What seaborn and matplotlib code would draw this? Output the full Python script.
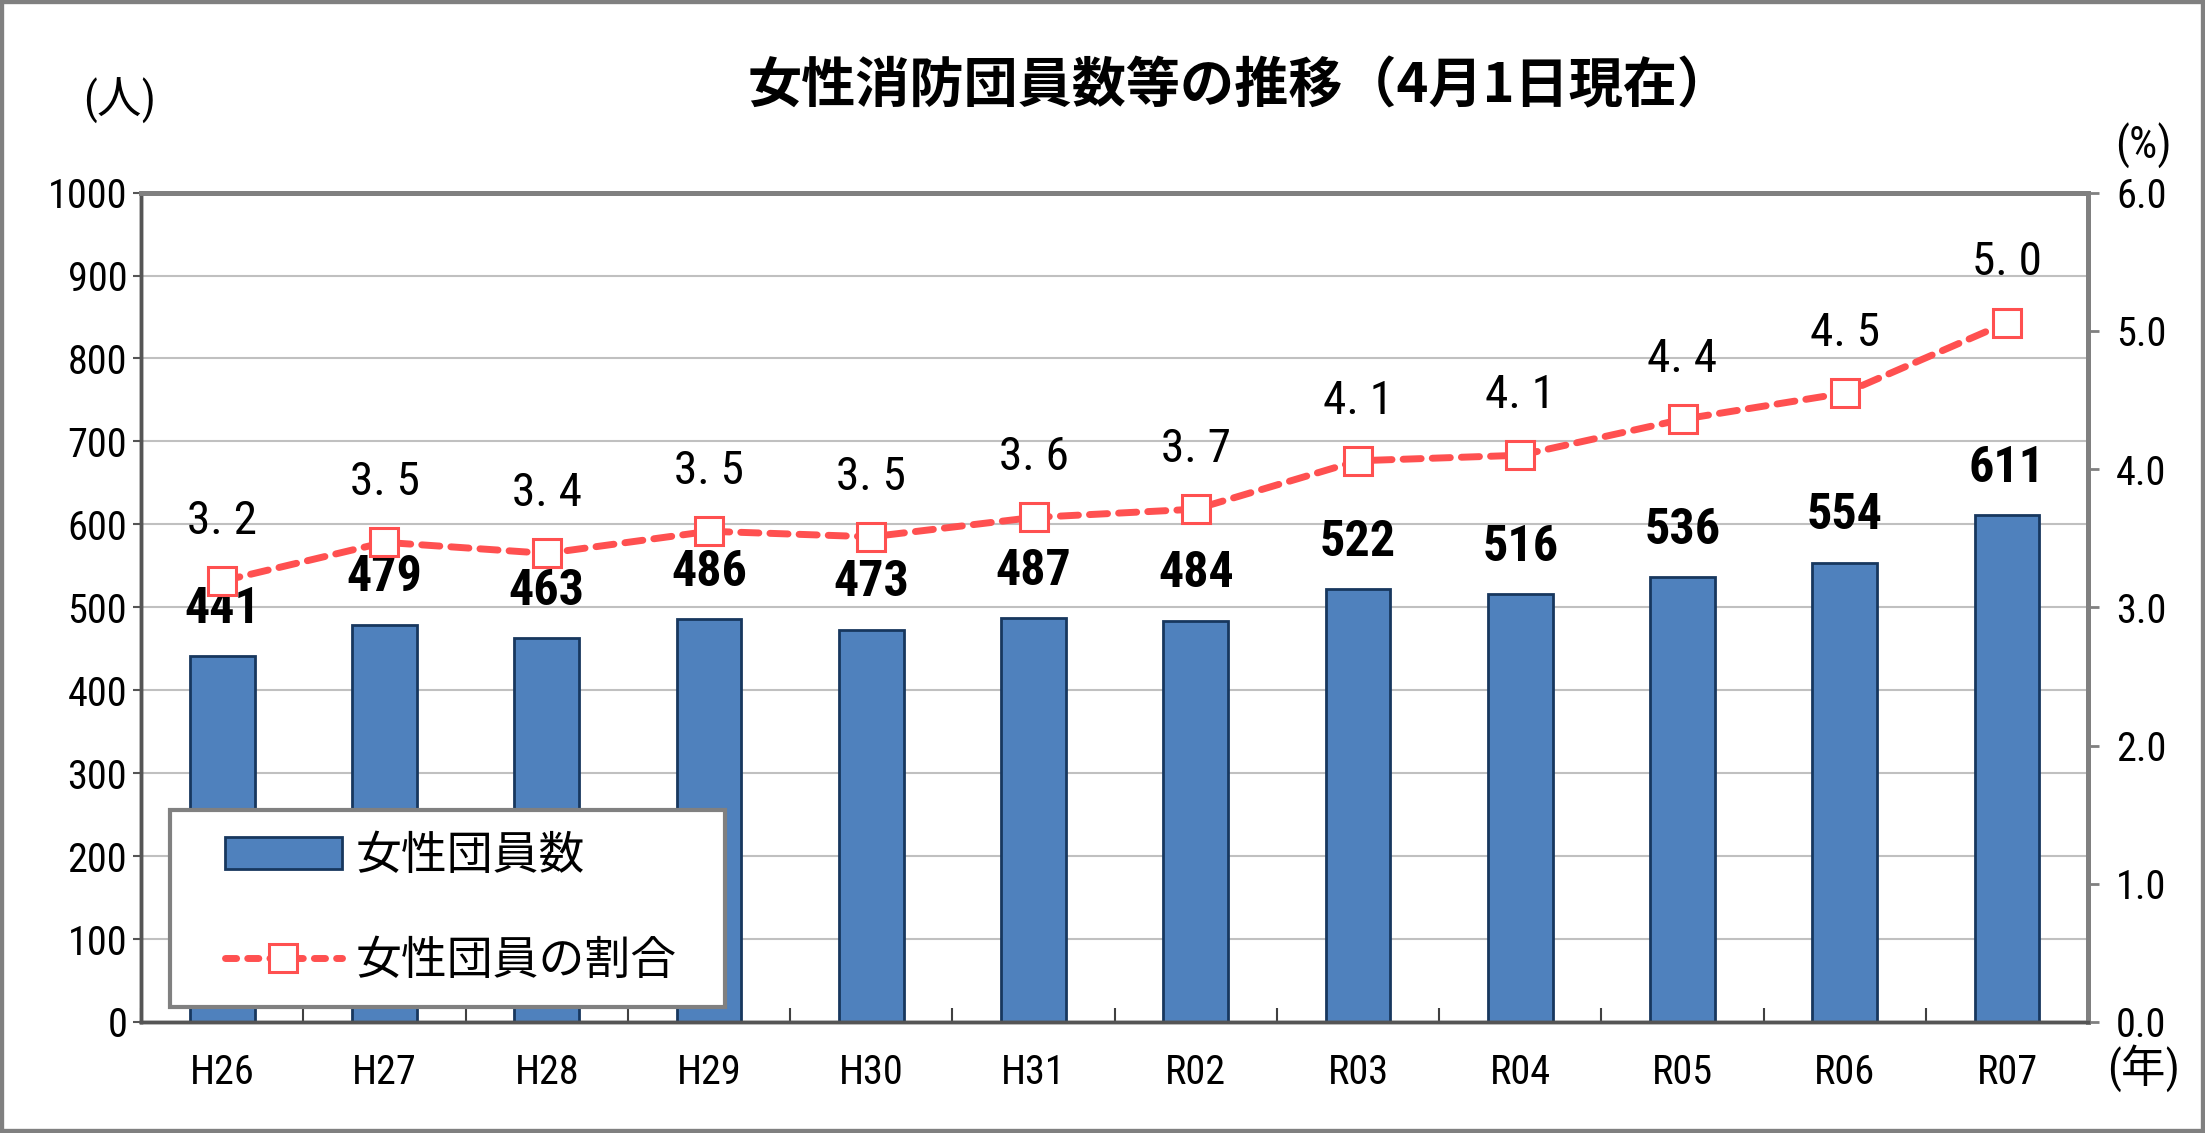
import matplotlib
matplotlib.use("Agg")
import matplotlib.pyplot as plt
from matplotlib import font_manager
from matplotlib.lines import Line2D
from matplotlib.patches import Patch, Rectangle
from matplotlib.ticker import FormatStrFormatter
import seaborn as sns
import numpy as np
import pandas as pd

# data
years = ["H26", "H27", "H28", "H29", "H30", "H31", "R02", "R03", "R04", "R05", "R06", "R07"]
members = [441, 479, 463, 486, 473, 487, 484, 522, 516, 536, 554, 611]
ratio = [3.19, 3.47, 3.39, 3.55, 3.51, 3.65, 3.71, 4.06, 4.10, 4.36, 4.55, 5.06]
ratio_labels = ["3. 2", "3. 5", "3. 4", "3. 5", "3. 5", "3. 6", "3. 7",
                "4. 1", "4. 1", "4. 4", "4. 5", "5. 0"]

bar_color = "#4F81BD"
bar_edge = "#17375E"
line_color = "#FF5050"

sns.set_theme(style="white")

# pick a narrow latin font if one is installed
available = {f.name for f in font_manager.fontManager.ttflist}
narrow, k = "Liberation Sans", 0.9
for name in ["Liberation Sans Narrow", "Roboto Condensed", "Archivo Narrow", "Barlow Condensed"]:
    if name in available:
        narrow, k = name, 1.0
        break
plt.rcParams["font.family"] = [narrow, "Noto Sans CJK JP", "DejaVu Sans"]
plt.rcParams["text.color"] = "black"
cjk = ["Noto Sans CJK JP", "DejaVu Sans"]

df = pd.DataFrame({"year": years, "members": members})

fig = plt.figure(figsize=(22.05, 11.33), dpi=100)
ax = fig.add_axes([0.064, 0.098, 0.883, 0.732])

sns.barplot(data=df, x="year", y="members", color=bar_color, saturation=1,
            width=0.4, edgecolor=bar_edge, linewidth=2, ax=ax, zorder=2)
ax.set_xlim(-0.5, 11.5)
ax.set_ylim(0, 1000)
ax.set_yticks(np.arange(0, 1001, 100))
ax.yaxis.grid(True, color="#C0C0C0", linewidth=1.5)
ax.set_axisbelow(True)
ax.set_xlabel("")
ax.set_ylabel("")

for i, v in enumerate(members):
    ax.annotate(str(v), (i, v), xytext=(0, 24), textcoords="offset points",
                ha="center", va="baseline", fontsize=36 * k, fontweight="bold")

ax2 = ax.twinx()
sns.lineplot(x=np.arange(len(years)), y=ratio, ax=ax2, color=line_color,
             linewidth=5, marker="s", markersize=20, markerfacecolor="white",
             markeredgecolor=line_color, markeredgewidth=2.2)
ln = ax2.lines[0]
ln.set_dashes([2.6, 1.6])
ln.set_dash_capstyle("round")
ax2.set_ylim(0, 6)
ax2.set_yticks(np.arange(0, 6.1, 1))
ax2.yaxis.set_major_formatter(FormatStrFormatter("%.1f"))
ax2.set_ylabel("")

for i, v in enumerate(ratio):
    ax2.annotate(ratio_labels[i], (i, v), xytext=(0, 34), textcoords="offset points",
                 ha="center", va="baseline", fontsize=34 * k)

# ticks
ax.tick_params(axis="y", direction="out", length=6, width=1.5, color="#555555",
               labelcolor="black", labelsize=29 * k, pad=4, left=True)
ax.tick_params(axis="x", which="major", length=0, labelcolor="black",
               labelsize=29 * k, pad=22)
ax.set_xticks(np.arange(-0.5, 12, 1), minor=True)
ax.tick_params(axis="x", which="minor", direction="in", length=10, width=1.5,
               color="#404040", bottom=True)
ax2.tick_params(axis="y", direction="out", length=8, width=2, color="#808080",
                labelcolor="black", labelsize=29 * k, pad=12, right=True)

for a in (ax, ax2):
    a.spines["top"].set_color("#808080")
    a.spines["right"].set_color("#808080")
    a.spines["top"].set_linewidth(3.5)
    a.spines["right"].set_linewidth(3.5)
    a.spines["left"].set_color("#555555")
    a.spines["bottom"].set_color("#555555")
    a.spines["left"].set_linewidth(2.5)
    a.spines["bottom"].set_linewidth(2.5)

# legend: white box drawn separately so the padding can differ per side
ax2.add_patch(Rectangle((0.015, 0.018), 0.285, 0.238, transform=ax2.transAxes,
                        facecolor="white", edgecolor="#808080", linewidth=3,
                        zorder=4, clip_on=False))
handles = [
    Patch(facecolor=bar_color, edgecolor=bar_edge, linewidth=2),
    Line2D([0], [0], color=line_color, linewidth=5, dashes=[1.6, 1.6],
           dash_capstyle="round", marker="s", markersize=20,
           markerfacecolor="white", markeredgecolor=line_color, markeredgewidth=2.2),
]
leg = ax2.legend(handles, ["女性団員数", "女性団員の割合"], loc="center left",
                 bbox_to_anchor=(0.043, 0.137), prop={"family": cjk, "size": 33},
                 frameon=False, borderpad=0, labelspacing=1.24, handlelength=2.55,
                 handletextpad=0.3, borderaxespad=0, numpoints=1)
leg.set_zorder(5)

# title and units
fig.text(0.562, 0.923, "女性消防団員数等の推移（4月1日現在）", ha="center", va="center",
         fontsize=39, fontweight="bold", family=cjk)
fig.text(0.054, 0.911, "(人)", ha="center", va="center", fontsize=32 * k)
fig.text(0.972, 0.871, "(%)", ha="center", va="center", fontsize=32 * k)
fig.text(0.972, 0.057, "(年)", ha="center", va="center", fontsize=32 * k)

fig.patches.append(Rectangle((0, 0), 1, 1, transform=fig.transFigure, fill=False,
                             edgecolor="#808080", linewidth=6))

fig.savefig("out.png", dpi=100)
